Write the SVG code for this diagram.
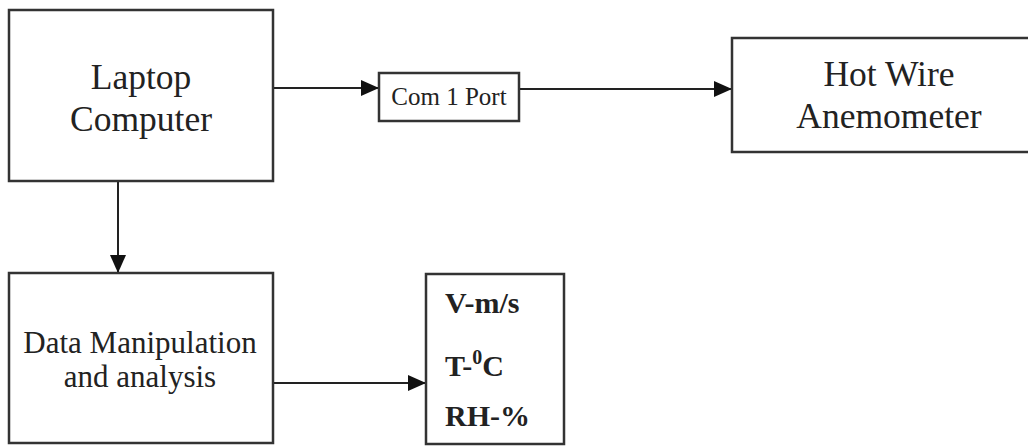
<svg xmlns="http://www.w3.org/2000/svg" width="1028" height="446" viewBox="0 0 1028 446">
<style>
.box{fill:#fff;stroke:#333;stroke-width:2.5}
.t{font-family:'Liberation Serif','DejaVu Serif',serif;fill:#222;text-anchor:middle}
.b{font-family:'Liberation Serif','DejaVu Serif',serif;fill:#222;font-weight:bold;font-size:30px}
.c{stroke:#222;stroke-width:2;fill:none}
</style>
<defs>
<marker id="ah" markerUnits="userSpaceOnUse" markerWidth="20" markerHeight="18" refX="18" refY="8" orient="auto">
<path d="M0,0 L18,8 L0,16 Z" fill="#111"/>
</marker>
</defs>
<rect width="1028" height="446" fill="#fff"/>
<g id="connectors">
<line class="c" x1="273" y1="88" x2="379" y2="88" marker-end="url(#ah)"/>
<line class="c" x1="519" y1="89" x2="732" y2="89" marker-end="url(#ah)"/>
<line class="c" x1="118" y1="181" x2="118" y2="273" marker-end="url(#ah)"/>
<line class="c" x1="273" y1="383" x2="426" y2="383" marker-end="url(#ah)"/>
</g>
<g id="laptop">
<rect class="box" x="9" y="10" width="264" height="171"/>
<text class="t" x="141" y="89" font-size="35.5">Laptop</text>
<text class="t" x="141" y="131" font-size="35.5">Computer</text>
</g>
<g id="com1">
<rect class="box" x="379" y="73" width="140" height="48"/>
<text class="t" x="449" y="105" font-size="25">Com 1 Port</text>
</g>
<g id="hotwire">
<rect class="box" x="732" y="38" width="310" height="114"/>
<text class="t" x="889" y="86" font-size="35.5">Hot Wire</text>
<text class="t" x="889" y="128" font-size="35.5">Anemometer</text>
</g>
<g id="data">
<rect class="box" x="9" y="273" width="264" height="170"/>
<text class="t" x="140" y="353" font-size="31">Data Manipulation</text>
<text class="t" x="140" y="387" font-size="31">and analysis</text>
</g>
<g id="values">
<rect class="box" x="426" y="274" width="138" height="170"/>
<text class="b" x="445" y="313">V-m/s</text>
<text class="b" x="445" y="376">T-<tspan font-size="20" dy="-12">0</tspan><tspan dy="12">C</tspan></text>
<text class="b" x="445" y="426">RH-%</text>
</g>
</svg>
